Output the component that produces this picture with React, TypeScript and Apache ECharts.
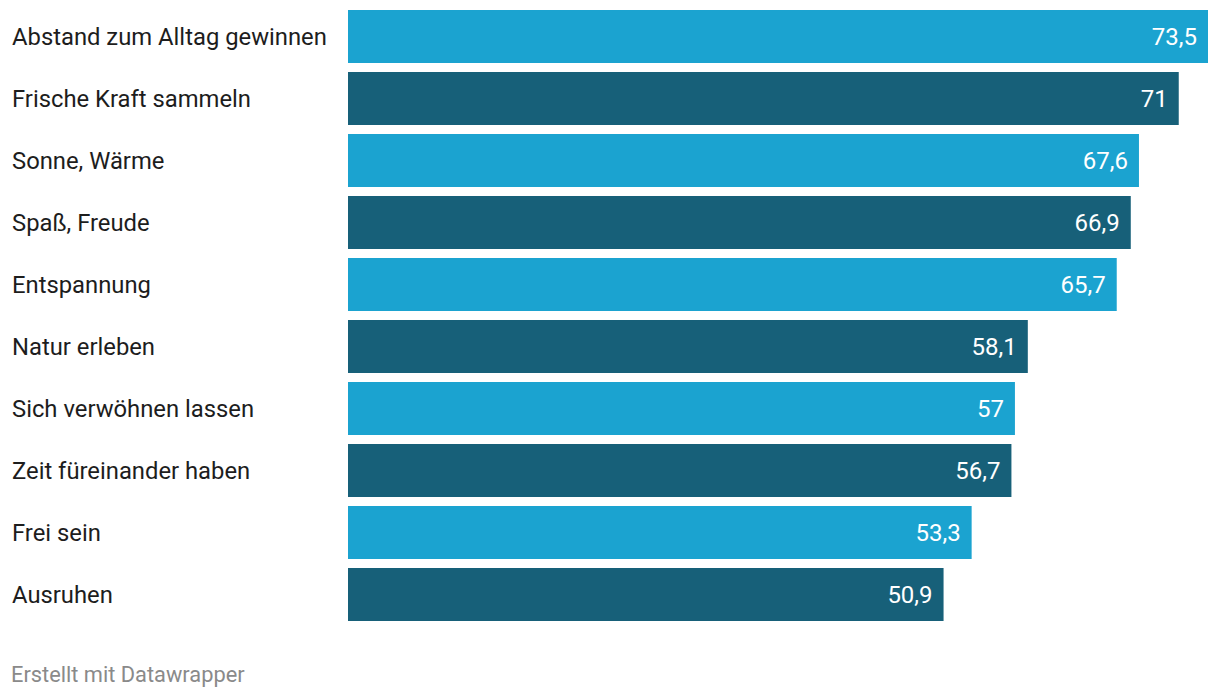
import React, { useEffect, useRef } from "react";
import * as echarts from "echarts";

const categories = [
  "Abstand zum Alltag gewinnen",
  "Frische Kraft sammeln",
  "Sonne, Wärme",
  "Spaß, Freude",
  "Entspannung",
  "Natur erleben",
  "Sich verwöhnen lassen",
  "Zeit füreinander haben",
  "Frei sein",
  "Ausruhen",
];
const values = [73.5, 71, 67.6, 66.9, 65.7, 58.1, 57, 56.7, 53.3, 50.9];
const colors = ["#1ba3d0", "#176079"];
const footer = "Erstellt mit Datawrapper";

export default function App() {
  const ref = useRef<HTMLDivElement>(null);
  useEffect(() => {
    if (!ref.current) return;
    const chart = echarts.init(ref.current, undefined, { renderer: "svg" });
    chart.setOption({
      animation: false,
      grid: { left: 348, right: 12, top: 5.5, height: 620, containLabel: false },
      xAxis: {
        type: "value",
        min: 0,
        max: 73.5,
        show: false,
      },
      yAxis: {
        type: "category",
        data: categories,
        inverse: true,
        axisLine: { show: false },
        axisTick: { show: false },
        splitLine: { show: false },
        axisLabel: {
          align: "left",
          margin: 336,
          fontFamily: "Roboto",
          fontSize: 23.8,
          color: "#1d1d1d",
        },
      },
      series: [
        {
          type: "bar",
          barWidth: 53,
          data: values.map((v, i) => ({
            value: v,
            itemStyle: { color: colors[i % 2] },
          })),
          label: {
            show: true,
            position: "insideRight",
            distance: 11,
            fontFamily: "Roboto",
            fontSize: 24,
            color: "#ffffff",
            formatter: (p: any) => String(p.value).replace(".", ","),
          },
        },
      ],
      graphic: [
        {
          type: "text",
          left: 11,
          top: 663,
          style: {
            text: footer,
            fontFamily: "Roboto",
            fontSize: 21.8,
            fill: "#8a8a8a",
          },
        },
      ],
    });
    return () => chart.dispose();
  }, []);
  return (
    <div
      ref={ref}
      style={{ position: "absolute", left: 0, top: 0, width: 1220, height: 698, background: "#fff" }}
    />
  );
}
